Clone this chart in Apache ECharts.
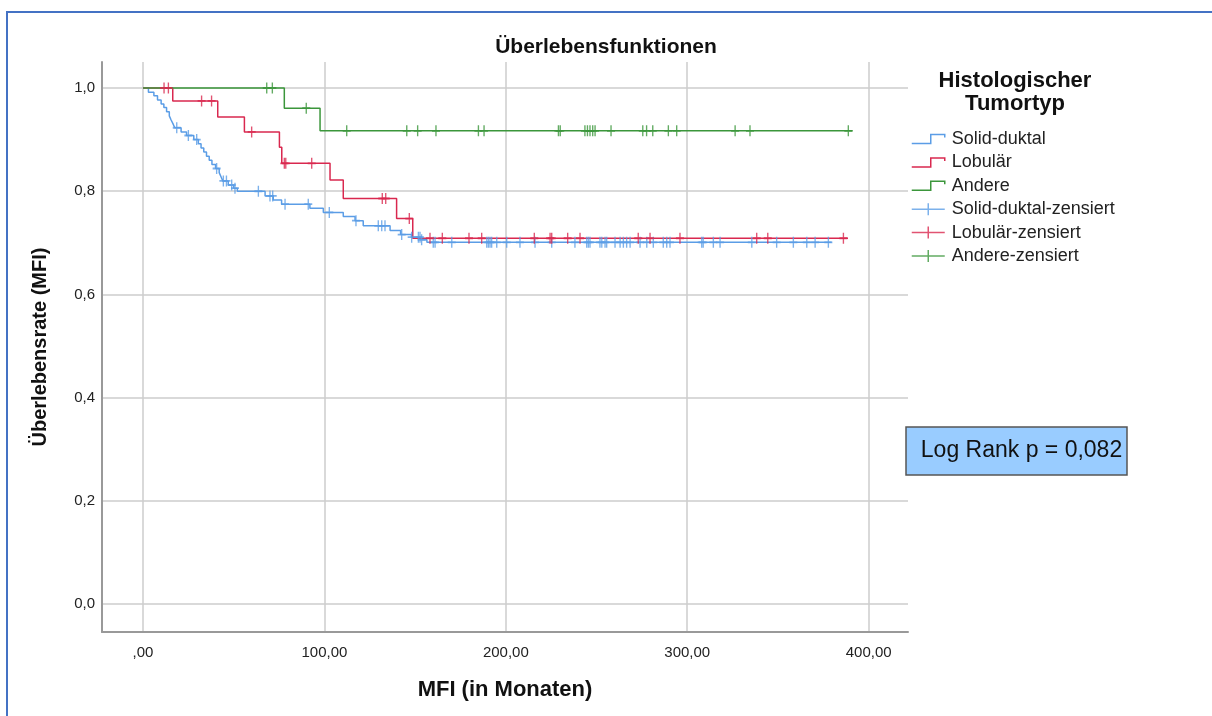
<!DOCTYPE html>
<html>
<head>
<meta charset="utf-8">
<title>Überlebensfunktionen</title>
<script src="https://cdn.jsdelivr.net/npm/echarts@6/dist/echarts.min.js"></script>
<style>
  html, body { margin: 0; padding: 0; background: #fff; }
  #main { width: 1212px; height: 716px; }
</style>
</head>
<body>
<div id="main"></div>
<script>
// Kaplan-Meier Stufen: [Monate, Überlebensrate]
var solidSteps = [
  [0, 1.000], [3.0, 0.992], [6.0, 0.985], [8.0, 0.977], [10.0, 0.969], [11.5, 0.962],
  [13.0, 0.954], [14.5, 0.946], [15.5, 0.938], [16.5, 0.931], [17.5, 0.923], [21.0, 0.915],
  [24.0, 0.908], [28.0, 0.900], [30.5, 0.892], [32.0, 0.884], [33.5, 0.876], [35.0, 0.868],
  [36.5, 0.860], [38.0, 0.852], [40.0, 0.844], [42.0, 0.836], [43.0, 0.828], [44.0, 0.820],
  [47.0, 0.812], [50.0, 0.806], [52.0, 0.800], [67.3, 0.791], [71.8, 0.783], [76.4, 0.775],
  [92.0, 0.767], [99.4, 0.759], [110.4, 0.751], [116.9, 0.743], [121.4, 0.733], [136.2, 0.724],
  [142.0, 0.716], [148.0, 0.711], [153.0, 0.706], [156.5, 0.701], [379.6, 0.701]
];
var lobSteps = [
  [0, 1.000], [16.4, 0.975], [41.2, 0.944], [55.9, 0.915], [75.2, 0.885], [76.5, 0.854],
  [103.1, 0.822], [110.4, 0.786], [139.8, 0.747], [148.7, 0.709], [388.6, 0.709]
];
var andereSteps = [
  [0, 1.000], [77.9, 0.961], [97.6, 0.917], [391.2, 0.917]
];

// zensierte Fälle (Monate)
var solidCensor = [
  18.6, 25.0, 29.6, 40.6, 44.3, 46.0, 48.9, 50.7, 63.6, 70.0, 71.5, 78.3, 91.1, 102.7,
  117.4, 129.7, 131.6, 133.4, 142.6, 148.1, 151.8, 152.7, 153.6, 160.0, 161.0, 170.2,
  189.5, 190.4, 191.3, 192.2, 195.0, 200.5, 207.8, 216.1, 225.3, 238.1, 244.6, 245.5,
  246.4, 251.9, 252.9, 254.7, 255.6, 260.2, 263.0, 264.8, 266.6, 268.5, 274.0, 277.7,
  281.3, 286.8, 288.7, 290.5, 308.0, 308.8, 314.4, 318.1, 335.6, 349.3, 358.5, 365.9,
  370.5, 377.8
];
var lobCensor = [
  11.6, 14.0, 32.3, 37.8, 59.9, 77.9, 78.7, 93.0, 131.9, 133.8, 146.8, 158.2, 165.0,
  179.7, 186.7, 215.7, 224.4, 225.3, 234.1, 240.9, 273.0, 279.5, 296.0, 338.3, 344.4, 386.1
];
var andereCensor = [
  68.2, 71.3, 90.0, 112.3, 145.4, 151.4, 161.5, 184.9, 188.0, 229.0, 230.0, 243.6, 245.0,
  246.4, 247.9, 249.2, 258.0, 275.5, 277.6, 281.0, 289.6, 294.2, 326.4, 334.6, 388.8
];

var xTicks = [0, 100, 200, 300, 400];
var yTicks = [0, 0.2, 0.4, 0.6, 0.8, 1.0];

var blue = '#5b9de6';
var red = '#d9284f';
var green = '#3b963b';
var font = 'Liberation Sans';

// Überlebensrate zum Zeitpunkt t aus den Stufen lesen
function survAt(steps, t) {
  var s = steps[0][1];
  for (var i = 0; i < steps.length; i++) {
    if (steps[i][0] <= t) s = steps[i][1];
  }
  return s;
}
function censorPoints(steps, times) {
  return times.map(function (t) { return [t, survAt(steps, t)]; });
}

var stepIcon = 'path://M0,10L19,10L19,1L33,1L33,4';
var plusIcon = 'path://M0,6L33,6M16.5,0L16.5,12';
var plusMark = 'path://M0,5L8,5M4,0L4,10';

function stepSeries(name, steps, color) {
  return {
    name: name,
    type: 'line',
    step: 'end',
    data: steps,
    showSymbol: false,
    symbol: 'none',
    lineStyle: { color: color, width: 1.5 },
    itemStyle: { color: color },
    silent: true,
    z: 3
  };
}
function censorSeries(name, steps, times, color) {
  return {
    name: name,
    type: 'scatter',
    data: censorPoints(steps, times),
    symbol: plusMark,
    symbolSize: [8, 11],
    itemStyle: { color: 'rgba(0,0,0,0)', borderColor: color, borderWidth: 1.6 },
    silent: true,
    z: 4
  };
}
function legendItem(name, icon, color) {
  return {
    name: name,
    icon: icon,
    itemStyle: { color: 'rgba(0,0,0,0)', borderColor: color, borderWidth: 1.5 }
  };
}

var chart = echarts.init(document.getElementById('main'));

var option = {
  animation: false,
  backgroundColor: '#fff',
  title: {
    text: 'Überlebensfunktionen',
    left: 'center',
    top: 32,
    textStyle: { fontFamily: font, fontSize: 21, fontWeight: 'bold', color: '#111' }
  },
  legend: {
    orient: 'vertical',
    left: 911,
    top: 129,
    padding: 0,
    itemWidth: 33,
    itemHeight: 12,
    itemGap: 3.4,
    selectedMode: false,
    textStyle: { fontFamily: font, fontSize: 18, color: '#222', lineHeight: 20, padding: [0, 0, 0, 2] },
    data: [
      legendItem('Solid-duktal', stepIcon, blue),
      legendItem('Lobulär', stepIcon, red),
      legendItem('Andere', stepIcon, green),
      legendItem('Solid-duktal-zensiert', plusIcon, blue),
      legendItem('Lobulär-zensiert', plusIcon, red),
      legendItem('Andere-zensiert', plusIcon, green)
    ]
  },
  grid: { left: 102, right: 304, top: 62, bottom: 84 },
  xAxis: {
    type: 'value',
    min: -22.6,
    max: 421.7,
    name: 'MFI (in Monaten)',
    nameLocation: 'middle',
    nameGap: 47,
    nameTextStyle: { fontFamily: font, fontSize: 22, fontWeight: 'bold', color: '#111' },
    axisLine: { onZero: false, lineStyle: { color: '#999', width: 2 } },
    axisTick: { show: false, customValues: xTicks },
    axisLabel: {
      customValues: xTicks,
      margin: 13,
      fontFamily: font,
      fontSize: 15,
      color: '#222',
      formatter: function (v) { return v === 0 ? ',00' : v.toFixed(2).replace('.', ','); }
    },
    splitLine: { show: true, lineStyle: { color: '#cdcdcd', width: 1.5 } }
  },
  yAxis: {
    type: 'value',
    min: -0.054,
    max: 1.0504,
    name: 'Überlebensrate (MFI)',
    nameLocation: 'middle',
    nameGap: 52,
    nameTextStyle: { fontFamily: font, fontSize: 20, fontWeight: 'bold', color: '#111' },
    axisLine: { show: true, onZero: false, lineStyle: { color: '#999', width: 2 } },
    axisTick: { show: false, customValues: yTicks },
    axisLabel: {
      customValues: yTicks,
      margin: 7,
      fontFamily: font,
      fontSize: 15,
      color: '#222',
      formatter: function (v) { return v.toFixed(1).replace('.', ','); }
    },
    splitLine: { show: true, lineStyle: { color: '#cdcdcd', width: 1.5 } }
  },
  graphic: [
    // blauer Rahmen
    {
      type: 'rect',
      shape: { x: 7, y: 12, width: 1215, height: 720 },
      style: { fill: 'none', stroke: '#4472c4', lineWidth: 2 },
      silent: true
    },
    // Legendentitel
    {
      type: 'text',
      x: 1015,
      y: 92,
      style: {
        text: 'Histologischer\nTumortyp',
        align: 'center',
        verticalAlign: 'middle',
        lineHeight: 23,
        fontFamily: font,
        fontSize: 22,
        fontWeight: 'bold',
        fill: '#111'
      },
      silent: true
    },
    // Log-Rank Kasten
    {
      type: 'rect',
      shape: { x: 906, y: 427, width: 221, height: 48 },
      style: { fill: '#99ccff', stroke: '#555', lineWidth: 1.5 },
      silent: true
    },
    {
      type: 'text',
      x: 1021.5,
      y: 451,
      style: {
        text: 'Log Rank p = 0,082',
        align: 'center',
        verticalAlign: 'middle',
        fontFamily: font,
        fontSize: 23,
        fill: '#111'
      },
      silent: true
    }
  ],
  series: [
    stepSeries('Solid-duktal', solidSteps, blue),
    stepSeries('Lobulär', lobSteps, red),
    stepSeries('Andere', andereSteps, green),
    censorSeries('Solid-duktal-zensiert', solidSteps, solidCensor, blue),
    censorSeries('Lobulär-zensiert', lobSteps, lobCensor, red),
    censorSeries('Andere-zensiert', andereSteps, andereCensor, green)
  ]
};

chart.setOption(option);
</script>
</body>
</html>
